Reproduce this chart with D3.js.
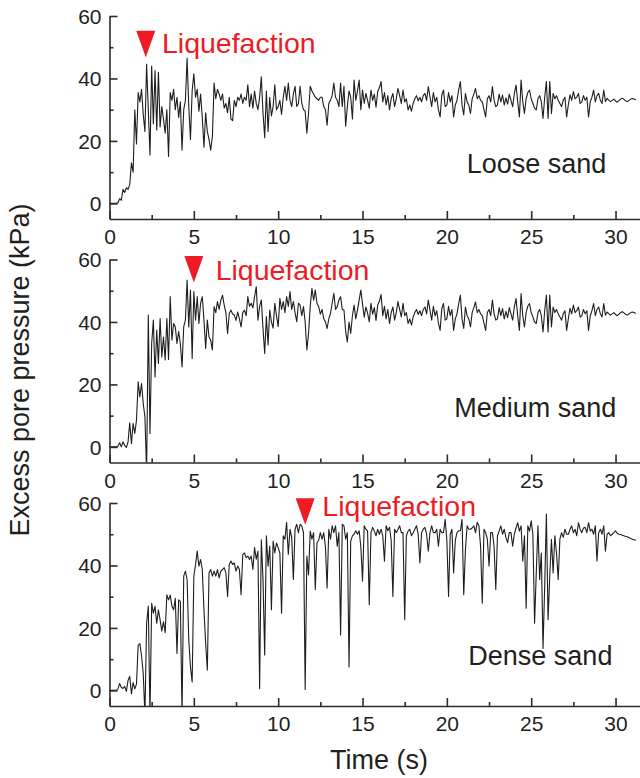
<!DOCTYPE html>
<html>
<head>
<meta charset="utf-8">
<script src="https://cdn.jsdelivr.net/npm/d3@7"></script>
<style>
  html, body { margin: 0; padding: 0; background: #fff; }
  svg { display: block; font-family: "Liberation Sans", Arial, Helvetica, sans-serif; }
</style>
</head>
<body>
<svg id="chart" width="640" height="778"></svg>
<script>
// Excess pore pressure records (kPa), sampled every 0.1 s from t = 0 s
const sampleStep = 0.1;

const xTicks = [0, 5, 10, 15, 20, 25, 30];
const xMinorTicks = [2.5, 7.5, 12.5, 17.5, 22.5, 27.5];
const yTicks = [0, 20, 40, 60];
const yMinorTicks = [10, 30, 50];

const panelNames = ["Loose sand", "Medium sand", "Dense sand"];

const looseSand = [
  0, 0, 0, 0, 0, 0.2, 1.5, 1.0, 4.5, 3.5,
  5.0, 4.5, 6.0, 13.0, 10.0, 30.0, 19.0, 35.5, 32.5, 36.5,
  28.5, 23.0, 44.5, 30.0, 15.5, 44.0, 25.5, 42.5, 23.5, 42.0,
  24.5, 31.0, 27.0, 22.5, 30.0, 15.0, 35.5, 33.0, 36.5, 30.0,
  34.0, 27.5, 32.5, 17.0, 30.0, 33.0, 46.5, 31.0, 20.5, 36.0,
  41.5, 34.0, 36.5, 29.5, 35.0, 27.5, 18.0, 29.0, 23.0, 20.5,
  17.0, 21.5, 38.5, 33.5, 36.5, 35.0, 33.0, 35.0, 30.5, 32.0,
  29.0, 34.0, 27.0, 26.5, 33.0, 31.0, 34.0, 33.0, 35.0, 32.0,
  34.0, 33.0, 38.0, 31.0, 35.0, 30.5, 36.0, 32.0, 30.0, 34.0,
  40.5, 29.0, 21.0, 36.0, 23.0, 34.0, 28.0, 31.0, 38.0, 30.0,
  31.0, 33.0, 28.5, 34.0, 37.5, 33.0, 38.5, 33.0, 31.0, 35.0,
  37.5, 31.0, 32.0, 37.5, 32.0, 30.0, 29.5, 22.5, 29.0, 37.5,
  36.0, 35.0, 34.0, 33.5, 33.0, 34.0, 34.0, 31.0, 30.0, 25.0,
  32.0, 33.0, 34.5, 38.5, 34.0, 33.0, 31.0, 38.5, 31.0, 37.5,
  24.7, 31.0, 36.0, 34.0, 27.0, 39.5, 33.0, 36.0, 39.5, 30.0,
  36.3, 32.0, 35.2, 33.0, 30.5, 36.3, 33.0, 35.0, 30.8, 35.8,
  37.0, 39.0, 32.5, 35.5, 31.5, 34.5, 29.9, 33.5, 35.2, 31.0,
  33.5, 36.8, 34.5, 32.0, 36.3, 32.5, 33.5, 29.9, 31.5, 29.5,
  32.0, 33.5, 34.5, 32.8, 34.0, 32.5, 34.5, 35.2, 33.0, 37.4,
  34.2, 31.0, 35.5, 32.5, 34.0, 30.0, 27.7, 34.7, 36.3, 31.0,
  31.5, 35.5, 32.5, 34.5, 27.7, 31.5, 33.0, 36.3, 39.0, 31.5,
  28.3, 35.2, 32.5, 31.5, 28.8, 33.5, 35.0, 36.8, 33.5, 34.5,
  33.0, 32.5, 30.0, 27.7, 33.5, 34.5, 32.5, 37.4, 33.0, 31.0,
  31.5, 35.0, 32.5, 34.7, 31.5, 33.8, 31.8, 35.0, 33.0, 31.0,
  35.2, 37.9, 32.5, 27.7, 39.5, 32.5, 28.8, 33.5, 35.5, 36.3,
  33.5, 32.0, 30.5, 29.9, 33.5, 34.5, 32.5, 27.2, 34.0, 39.0,
  27.2, 39.0, 28.8, 35.2, 33.5, 34.5, 33.0, 32.0, 31.0, 33.0,
  34.0, 27.7, 31.5, 34.8, 33.0, 35.8, 33.5, 34.0, 35.2, 32.0,
  32.5, 34.5, 33.0, 34.0, 27.7, 32.5, 34.0, 36.3, 32.5, 34.5,
  35.2, 33.0, 32.0, 36.3, 32.6, 33.6, 33.0, 32.6, 33.0, 33.4,
  32.8, 32.4, 32.9, 33.4, 33.7, 33.3, 32.8, 32.6, 33.0, 33.4,
  33.6, 33.4, 33.1
];

const mediumSand = [
  0, 0, 0, 0, 0, 0.2, 1.3, 0, 1.6, 0.5,
  -0.2, 1.6, 7.7, 1.0, 7.5, 4.3, 8.6, 20.8, 16.0, 20.3,
  13.9, 9.6, -8, 42.2, 4.3, 33.1, 40.6, 22.4, 37.4, 26.7,
  41.1, 28.8, 35.2, 27.8, 41.1, 28.0, 48.1, 34.2, 39.5, 38.5,
  33.1, 36.9, 33.1, 25.6, 38.5, 40.6, 53.4, 38.4, 50.2, 28.3,
  49.7, 40.6, 48.1, 39.5, 46.0, 48.1, 40.6, 31.5, 40.6, 35.2,
  34.2, 31.0, 44.9, 43.0, 46.5, 44.0, 47.0, 48.6, 45.4, 43.0,
  36.3, 42.7, 43.8, 42.5, 42.2, 40.5, 43.2, 41.0, 38.4, 43.0,
  43.8, 42.0, 48.1, 45.0, 46.0, 44.5, 48.1, 51.3, 40.6, 45.0,
  47.0, 38.0, 29.9, 41.7, 32.6, 43.8, 40.0, 38.0, 46.0, 42.0,
  38.5, 47.6, 44.0, 46.5, 43.0, 48.1, 45.0, 49.7, 44.0, 46.5,
  43.0, 40.1, 46.0, 45.4, 42.0, 44.9, 40.0, 31.0, 36.3, 45.0,
  50.8, 47.0, 50.2, 46.0, 44.9, 42.5, 44.0, 41.1, 40.0, 37.9,
  41.0, 42.7, 46.0, 49.2, 44.0, 44.9, 47.0, 48.1, 44.0, 43.8,
  37.0, 33.6, 40.0, 36.3, 42.0, 45.4, 41.0, 43.8, 47.0, 50.2,
  45.8, 41.5, 44.8, 42.8, 40.0, 46.0, 42.5, 44.6, 40.5, 45.4,
  46.6, 48.8, 42.0, 45.0, 41.0, 44.0, 39.5, 43.0, 44.8, 40.6,
  43.0, 46.5, 44.0, 41.6, 46.0, 42.0, 43.0, 39.5, 41.0, 39.0,
  41.6, 43.0, 44.0, 42.4, 43.6, 42.0, 44.0, 44.8, 42.6, 47.0,
  43.8, 40.6, 45.0, 42.0, 43.6, 39.6, 37.3, 44.3, 45.9, 40.6,
  41.0, 45.0, 42.0, 44.0, 37.3, 41.0, 42.6, 45.9, 48.6, 41.0,
  37.9, 44.8, 42.0, 41.0, 38.4, 43.0, 44.6, 46.4, 43.0, 44.0,
  42.6, 42.0, 39.6, 37.3, 43.0, 44.0, 42.0, 47.0, 42.6, 40.6,
  41.0, 44.6, 42.0, 44.3, 41.0, 43.4, 41.4, 44.6, 42.6, 40.6,
  44.8, 47.5, 42.0, 37.3, 49.1, 42.0, 38.4, 43.0, 45.1, 45.9,
  43.0, 41.6, 40.0, 39.5, 43.0, 44.0, 42.0, 36.8, 43.6, 48.6,
  36.8, 48.6, 38.4, 44.8, 43.0, 44.0, 42.6, 41.6, 40.6, 42.6,
  43.6, 37.3, 41.0, 44.4, 42.6, 45.4, 43.0, 43.6, 44.8, 41.6,
  42.0, 44.0, 42.6, 43.6, 37.3, 42.0, 43.6, 45.9, 42.0, 44.0,
  44.8, 42.6, 41.6, 45.9, 42.2, 43.2, 42.6, 42.2, 42.6, 43.0,
  42.4, 42.0, 42.5, 43.0, 43.3, 42.9, 42.4, 42.2, 42.6, 43.0,
  43.2, 43.0, 42.7
];

const denseSand = [
  0, 0, 0, 0, 0, 0.5, 2.2, 1.0, 0.6, 1.3,
  -0.3, 3.2, 4.5, -1.1, 2.5, 0.5, 2.0, 14.5, 15.0, 11.0,
  5.4, -8, 21.5, 27.0, -8, 27.9, 24.7, 26.9, 21.5, 25.8,
  22.6, 19.0, 22.0, 18.5, 30.6, 29.0, 30.5, 27.0, 25.8, 29.5,
  11.8, 29.0, 28.5, -8, 36.6, 38.2, 35.5, 16.1, 7.5, 2.7,
  36.6, 40.3, 44.6, 39.8, 41.9, 38.7, 25.8, 15.0, 6.5, 37.6,
  38.7, 36.6, 38.2, 36.6, 38.7, 36.0, 38.2, 38.7, 39.3, 37.6,
  30.1, 40.3, 41.4, 40.3, 40.8, 38.2, 39.8, 38.7, 30.6, 43.5,
  44.0, 42.5, 43.0, 41.9, 43.0, 38.7, 45.7, 42.0, 44.6, 0.5,
  48.2, 35.5, 11.3, 49.5, 39.8, 46.2, 25.8, 47.8, 44.0, 47.2,
  45.7, 44.0, 24.7, 49.5, 48.4, 53.8, 43.5, 51.6, 49.0, 35.5,
  51.6, 53.2, 50.5, 53.2, 52.6, 50.5, 0.3, 43.0, 37.0, 51.0,
  48.4, 50.5, 32.3, 47.3, 48.0, 50.5, 48.4, 50.5, 46.0, 32.8,
  51.6, 48.4, 52.7, 50.5, 52.7, 46.2, 50.5, 17.7, 53.2, 52.7,
  48.4, 50.5, 7.5, 47.8, 49.5, 50.0, 51.1, 50.0, 51.1, 46.0,
  35.0, 52.7, 51.6, 51.1, 27.4, 50.5, 52.2, 51.0, 49.5, 51.6,
  50.0, 51.6, 49.5, 41.4, 52.7, 51.1, 52.2, 48.0, 30.1, 51.6,
  50.5, 51.5, 52.7, 50.5, 50.5, 22.6, 49.5, 51.0, 51.6, 49.5,
  50.5, 51.6, 52.7, 50.0, 40.8, 50.5, 51.6, 52.2, 50.0, 44.6,
  50.5, 52.7, 50.5, 50.5, 51.6, 46.2, 51.6, 50.5, 50.5, 54.8,
  48.0, 30.1, 50.0, 51.6, 37.6, 48.0, 50.5, 51.1, 51.1, 54.8,
  30.6, 45.0, 52.7, 51.6, 51.6, 52.0, 52.7, 50.5, 53.8, 52.7,
  46.0, 27.9, 51.6, 50.5, 48.4, 39.8, 50.5, 50.5, 46.0, 32.3,
  49.5, 51.0, 52.7, 50.0, 51.6, 49.0, 47.3, 50.5, 50.5, 46.2,
  50.0, 52.0, 53.7, 51.0, 52.7, 41.4, 49.5, 26.3, 52.7, 51.0,
  54.3, 50.0, 21.5, 37.6, 52.7, 35.5, 44.0, 13.4, 33.4, 56.5,
  22.6, 36.6, 48.4, 37.6, 49.5, 44.0, 35.5, 48.4, 50.5, 49.0,
  51.6, 50.0, 50.0, 51.5, 52.7, 50.5, 51.6, 49.5, 53.7, 51.6,
  50.5, 52.0, 52.2, 50.5, 53.7, 51.0, 51.6, 50.0, 52.7, 41.4,
  50.5, 51.6, 50.0, 52.7, 44.6, 50.0, 50.5, 49.5, 50.0, 50.5,
  51.1, 50.3, 50.0, 49.9, 49.7, 49.5, 49.3, 49.2, 48.9, 48.6,
  48.4, 48.2, 48.1
];

// Onset of liquefaction in each test: time (s) and pressure (kPa)
const liquefactionTime = [2.15, 5.0, 11.6];
const liquefactionPressure = [46.8, 52.6, 53.0];
const liquefactionLabel = "Liquefaction";

const series = [looseSand, mediumSand, denseSand];

// ---- layout ----
const plotLeft = 109.5, plotRight = 640;
const panelTops = [16, 259.5, 503];
const panelHeight = 203;
const nameLabelPos = [[466.7, 172.7], [454.3, 416.7], [468.3, 665]];
const liqTextOffset = [[6.7, -4], [12.3, -2.7], [7.7, -9]];
const ink = "#231f20";
const red = "#ed1c24";

const svg = d3.select("#chart");
const x = d3.scaleLinear().domain([0, 31.45]).range([plotLeft, plotRight]);

const line = d3.line()
  .x((d, i) => x(i * sampleStep));

series.forEach((values, p) => {
  const top = panelTops[p];
  const bottom = top + panelHeight;
  const y = d3.scaleLinear().domain([-5, 60]).range([bottom, top]);
  const g = svg.append("g");

  // clip region for the trace
  const clipId = "clip" + p;
  svg.append("clipPath").attr("id", clipId)
    .append("rect")
    .attr("x", plotLeft).attr("y", top - 10)
    .attr("width", plotRight - plotLeft).attr("height", bottom - top + 10);

  g.append("path")
    .datum(values)
    .attr("clip-path", `url(#${clipId})`)
    .attr("fill", "none")
    .attr("stroke", "#1e1e1e")
    .attr("stroke-width", 1.1)
    .attr("stroke-linejoin", "round")
    .attr("d", line.y(d => y(d)));

  // x axis: major ticks with labels, minor ticks without
  const xAxis = g.append("g")
    .attr("transform", `translate(0,${bottom})`)
    .call(d3.axisBottom(x).tickValues(xTicks).tickSizeInner(-8).tickSizeOuter(0).tickPadding(10.5).tickFormat(d3.format("d")));
  g.append("g")
    .attr("transform", `translate(0,${bottom})`)
    .call(d3.axisBottom(x).tickValues(xMinorTicks).tickSizeInner(-4).tickSizeOuter(0).tickFormat(""))
    .call(s => s.select(".domain").remove());

  // y axis
  const yAxis = g.append("g")
    .attr("transform", `translate(${plotLeft},0)`)
    .call(d3.axisLeft(y).tickValues(yTicks).tickSizeInner(-8).tickSizeOuter(0).tickPadding(8).tickFormat(d3.format("d")));
  g.append("g")
    .attr("transform", `translate(${plotLeft},0)`)
    .call(d3.axisLeft(y).tickValues(yMinorTicks).tickSizeInner(-4).tickSizeOuter(0).tickFormat(""))
    .call(s => s.select(".domain").remove());

  g.selectAll(".domain, .tick line")
    .attr("stroke", "#2b2b2b")
    .attr("stroke-width", 1.6);
  g.selectAll(".tick text")
    .attr("fill", ink)
    .attr("font-size", 21)
    .attr("font-family", "'Liberation Sans', Arial, Helvetica, sans-serif");
  yAxis.selectAll(".tick text").attr("dy", "0.35em");

  // liquefaction marker
  const tx = x(liquefactionTime[p]);
  const ty = y(liquefactionPressure[p]);
  g.append("path")
    .attr("d", d3.line()([[tx, ty], [tx - 9.5, ty - 26.5], [tx + 9.5, ty - 26.5]]) + "Z")
    .attr("fill", red);
  g.append("text")
    .attr("x", tx + 9.5 + liqTextOffset[p][0])
    .attr("y", ty + liqTextOffset[p][1])
    .attr("fill", red)
    .attr("font-size", 28.5)
    .text(liquefactionLabel);

  // sand type label
  g.append("text")
    .attr("x", nameLabelPos[p][0])
    .attr("y", nameLabelPos[p][1])
    .attr("fill", ink)
    .attr("font-size", 27)
    .text(panelNames[p]);
});

// axis titles
svg.append("text")
  .attr("transform", "translate(28.5,370) rotate(-90)")
  .attr("text-anchor", "middle")
  .attr("fill", ink)
  .attr("font-size", 27)
  .text("Excess pore pressure (kPa)");

svg.append("text")
  .attr("x", 379)
  .attr("y", 769)
  .attr("text-anchor", "middle")
  .attr("fill", ink)
  .attr("font-size", 27)
  .text("Time (s)");
</script>
</body>
</html>
